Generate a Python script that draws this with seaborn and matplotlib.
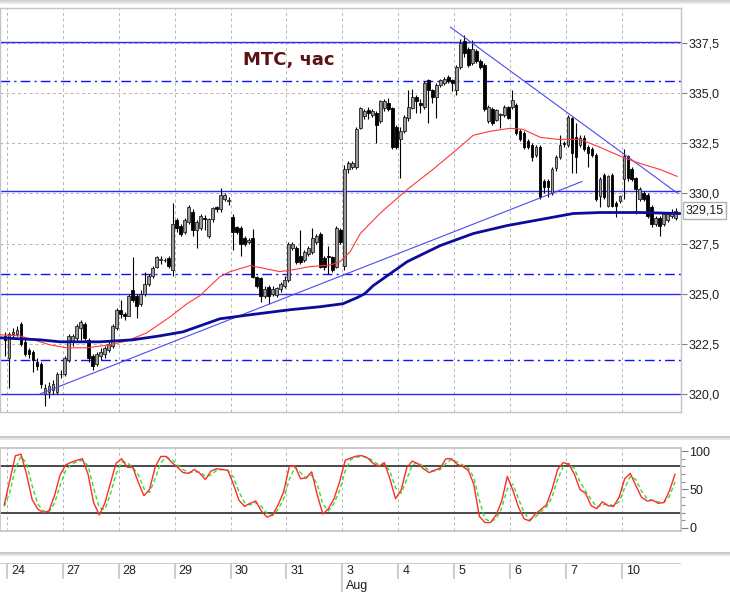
"""
MTS hourly chart: candles, two moving averages, trend lines, levels
and a stochastic oscillator panel with a day strip underneath.
"""

import numpy as np
import pandas as pd
import matplotlib
matplotlib.use("Agg")
import matplotlib.pyplot as plt
import seaborn as sns
from matplotlib.lines import Line2D
from matplotlib.ticker import FixedLocator, FuncFormatter, MultipleLocator

# --- Data ---
day_labels = ["24", "27", "28", "29", "30", "31", "3", "4", "5", "6", "7", "10"]
month_label = "Aug"
month_day = 6          # index of the day where August starts
bars_per_day = 14

# one bar from the previous day, then 14 hourly bars per day
opens = [322.9,
    321.8, 323.0, 323.0, 323.5, 322.6, 322.2, 322.1, 321.6, 321.5, 320.0, 320.1, 320.2, 320.1, 321.0,
    321.0, 321.7, 322.6, 322.8, 323.3, 323.5, 322.7, 321.9, 321.5, 321.9, 322.0, 322.2, 322.4, 323.3,
    324.2, 324.0, 323.9, 325.2, 324.9, 324.5, 325.0, 325.5, 325.9, 326.35, 326.7, 326.7, 326.8, 326.2,
    328.7, 328.4, 328.1, 328.6, 329.1, 328.2, 328.3, 328.8, 327.9, 328.75, 329.3, 329.2, 329.7, 329.6,
    328.85, 328.35, 328.3, 327.8, 327.6, 327.8, 325.85, 325.8, 324.9, 325.35, 325.0, 324.95, 325.25, 325.4,
    325.7, 327.3, 327.3, 326.9, 326.7, 327.0, 327.1, 327.6, 328.0, 326.8, 326.9, 326.85, 326.35, 328.2,
    326.4, 331.2, 331.3, 331.3, 333.25, 333.85, 334.15, 333.9, 334.0, 333.6, 334.25, 334.5, 334.25, 333.3,
    332.7, 333.1, 333.75, 334.25, 334.8, 334.5, 334.3, 335.65, 335.15, 334.8, 335.4, 335.5, 335.8, 335.65,
    335.15, 336.3, 337.6, 337.2, 336.5, 337.1, 336.6, 336.4, 333.6, 334.2, 333.65, 333.9, 333.9, 334.3,
    334.3, 334.4, 333.1, 333.0, 332.6, 332.4, 331.9, 332.3, 330.6, 330.6, 330.0, 331.25, 331.8, 332.5,
    332.4, 333.75, 332.8, 332.4, 332.75, 332.3, 332.2, 331.9, 329.85, 330.9, 329.35, 330.9, 329.5, 329.6,
    330.7, 331.85, 331.2, 330.75, 329.7, 330.0, 329.9, 329.3, 328.5, 328.8, 328.5, 328.7, 328.9, 328.8]
highs = [323.1,
    323.1, 323.3, 323.4, 323.6, 322.8, 322.3, 322.2, 321.8, 321.6, 320.5, 320.6, 320.7, 321.1, 321.2,
    321.9, 323.0, 323.0, 323.5, 323.7, 323.6, 322.8, 322.0, 322.1, 322.3, 322.4, 322.7, 323.5, 324.3,
    324.7, 324.1, 325.0, 326.85, 325.0, 325.2, 326.1, 326.0, 326.4, 326.9, 326.9, 326.8, 326.9, 329.5,
    328.8, 328.5, 328.8, 329.4, 329.2, 328.7, 329.0, 328.95, 328.8, 329.3, 329.35, 330.25, 330.0, 329.8,
    329.0, 328.4, 328.4, 327.9, 327.8, 328.25, 325.9, 325.85, 325.4, 325.45, 325.4, 325.35, 325.6, 325.9,
    327.6, 327.6, 327.4, 328.2, 327.2, 327.4, 328.3, 328.0, 328.1, 326.9, 327.4, 326.9, 328.4, 328.3,
    331.4, 331.6, 331.6, 333.3, 334.3, 334.2, 334.3, 334.2, 334.1, 334.65, 334.7, 334.75, 334.3, 333.4,
    333.3, 333.9, 335.15, 335.2, 334.9, 334.7, 335.6, 335.7, 335.2, 335.5, 335.7, 335.8, 335.9, 335.7,
    336.4, 337.7, 337.9, 337.3, 337.65, 337.2, 336.7, 336.5, 334.4, 334.3, 334.2, 334.0, 334.4, 334.35,
    335.15, 334.5, 333.2, 333.1, 332.7, 332.5, 332.4, 332.4, 330.7, 330.7, 331.3, 331.9, 332.9, 332.6,
    333.9, 333.8, 333.5, 332.9, 332.9, 332.4, 332.3, 332.0, 330.8, 331.0, 330.9, 331.0, 329.6, 329.9,
    332.2, 331.9, 331.3, 330.8, 330.3, 330.1, 330.0, 329.4, 328.9, 328.9, 329.1, 329.1, 329.2, 329.25]
lows = [321.9,
    320.3, 322.8, 322.9, 322.4, 321.9, 321.8, 321.1, 321.2, 320.3, 319.4, 319.8, 320.0, 320.0, 320.8,
    320.9, 321.6, 322.4, 322.6, 322.7, 322.6, 321.6, 321.2, 321.4, 321.7, 321.8, 322.1, 322.3, 323.2,
    323.8, 323.7, 323.9, 324.6, 323.8, 324.4, 324.9, 325.4, 325.8, 326.3, 326.5, 326.6, 326.3, 325.9,
    328.1, 327.9, 328.0, 328.5, 327.9, 327.3, 328.2, 328.2, 327.8, 328.6, 329.1, 329.1, 329.6, 329.4,
    327.2, 328.0, 326.9, 327.4, 327.5, 325.8, 325.3, 324.6, 324.8, 324.5, 324.9, 324.85, 325.1, 325.3,
    325.6, 327.2, 326.5, 326.5, 326.6, 326.9, 327.0, 327.5, 326.3, 326.2, 326.0, 326.1, 326.3, 327.5,
    326.2, 331.0, 331.2, 331.2, 333.2, 333.7, 333.7, 333.8, 332.5, 333.5, 334.1, 334.1, 332.2, 332.2,
    330.75, 333.0, 333.6, 334.2, 334.0, 334.0, 334.2, 333.5, 334.5, 333.75, 335.3, 335.4, 335.5, 335.1,
    334.9, 336.2, 336.8, 336.3, 336.4, 336.5, 336.2, 334.1, 333.5, 333.4, 333.6, 333.25, 333.8, 333.7,
    334.2, 332.9, 332.6, 332.2, 332.2, 331.6, 331.8, 329.7, 330.0, 329.8, 329.9, 331.1, 331.7, 332.3,
    332.3, 331.0, 331.0, 332.3, 332.1, 331.3, 331.8, 329.6, 329.3, 329.7, 329.3, 329.3, 328.85, 329.5,
    329.7, 330.6, 330.6, 329.0, 329.6, 329.6, 328.8, 328.35, 328.4, 327.9, 328.4, 328.6, 328.8, 328.7]
closes = [322.7,
    323.0, 323.1, 323.2, 322.5, 322.0, 322.0, 321.7, 321.4, 320.5, 320.3, 320.4, 320.5, 321.0, 321.0,
    321.8, 322.9, 322.9, 323.4, 323.6, 322.8, 321.8, 321.4, 322.0, 322.1, 322.3, 322.5, 323.4, 324.2,
    324.0, 323.9, 324.9, 324.7, 324.4, 325.0, 325.5, 325.9, 326.3, 326.85, 326.75, 326.7, 326.4, 328.5,
    328.3, 328.0, 328.7, 329.3, 328.2, 328.6, 328.9, 328.75, 328.75, 329.25, 329.2, 329.9, 329.9, 329.65,
    328.1, 328.1, 327.5, 327.5, 327.7, 325.85, 325.4, 324.9, 325.25, 324.9, 325.25, 325.3, 325.5, 325.7,
    327.5, 327.5, 326.6, 326.6, 327.1, 327.3, 327.8, 327.9, 326.35, 326.35, 326.85, 326.2, 328.3, 327.6,
    331.2, 331.5, 331.5, 333.2, 334.25, 334.1, 334.0, 334.1, 333.4, 334.6, 334.6, 334.2, 332.3, 332.3,
    333.1, 333.8, 334.3, 334.8, 334.6, 334.4, 335.5, 335.15, 334.8, 335.4, 335.65, 335.7, 335.6, 335.5,
    336.3, 337.5, 337.0, 336.4, 337.2, 336.6, 336.3, 334.2, 334.3, 333.5, 334.15, 333.95, 334.3, 333.75,
    334.65, 333.0, 332.7, 332.3, 332.3, 331.8, 332.3, 329.8, 330.3, 330.3, 331.2, 331.8, 332.4, 332.45,
    333.8, 332.0, 331.8, 332.75, 332.2, 332.0, 331.9, 329.7, 330.7, 329.8, 330.85, 329.35, 329.35, 329.85,
    331.85, 330.75, 330.7, 330.2, 330.2, 329.7, 328.9, 328.5, 328.8, 328.4, 329.0, 329.0, 329.1, 329.15]
last_price = 329.15

# moving averages, sampled along the line (x in trading days)
ma_fast_x = [-0.13, 0.23, 0.47, 0.77, 1.07, 1.43, 1.84, 2.15, 2.50, 2.92, 3.22, 3.45, 3.81,
             3.99, 4.35, 4.53, 4.88, 5.12, 5.42, 5.78, 5.96, 6.14, 6.32, 6.67, 7.16, 7.62,
             8.05, 8.34, 8.64, 9.00, 9.23, 9.54, 9.84, 10.25, 10.61, 11.02, 11.32, 11.68, 11.99]
ma_fast = [322.95, 322.9, 322.7, 322.45, 322.3, 322.3, 322.45, 322.65, 323.05, 323.85, 324.5,
           324.9, 325.85, 326.1, 326.4, 326.3, 326.1, 326.2, 326.35, 326.43, 326.6, 327.1, 328.0,
           329.0, 330.2, 331.2, 332.2, 332.9, 333.1, 333.25, 333.2, 332.8, 332.7, 332.7, 332.3,
           331.8, 331.5, 331.2, 330.85]
ma_slow_x = [-0.13, 0.59, 0.95, 1.66, 2.25, 2.74, 3.15, 3.81, 4.35, 5.06, 5.60, 6.01, 6.26,
             6.40, 6.55, 7.16, 7.75, 8.34, 8.95, 9.54, 10.13, 10.61, 11.32, 12.04]
ma_slow = [322.8, 322.7, 322.6, 322.6, 322.7, 322.9, 323.1, 323.75, 323.95, 324.2, 324.35,
           324.5, 324.8, 325.0, 325.4, 326.6, 327.4, 328.0, 328.4, 328.7, 329.0, 329.05,
           329.05, 329.0]

# trend lines (two end points each)
trend_up_x = [0.59, 10.29]
trend_up_y = [320.0, 330.6]
trend_down_x = [7.93, 12.0]
trend_down_y = [338.3, 330.0]

# horizontal levels
levels_solid = [337.55, 330.1, 325.0, 320.0]
levels_dashdot = [335.6, 326.0, 321.7]

# stochastic oscillator, ten readings per day
stoch_k = [30, 62, 94, 96, 70, 37, 24.5, 20, 22, 42,
           69, 82, 85.5, 88, 90, 70, 33, 17, 32, 58,
           84, 90, 79, 79, 59, 42, 50, 79, 93, 93,
           85, 79, 72, 71, 76, 71, 63, 74, 77, 76,
           75, 57, 36, 28, 32, 35, 22, 14, 17, 30,
           47, 80, 81, 64, 65, 73, 43, 18, 25, 38,
           60, 88, 91, 93.5, 94, 91, 84, 80, 85, 64,
           38, 49, 78, 87, 83.5, 77, 72, 75, 78, 90,
           90, 83, 80, 75, 57, 15, 7, 7, 17, 35,
           67, 49, 27, 12, 9, 18, 24, 30, 50, 76,
           85, 83, 70, 50, 45, 29, 25, 34, 29, 28,
           40, 64, 71, 55, 40, 35, 36, 32, 33, 48,
           70]
stoch_d = [28, 46, 78, 93, 84, 55, 31, 22, 21, 32,
           55, 75, 83, 86, 88, 81, 52, 26, 24, 44,
           70, 86, 85, 79, 69, 51, 46, 64, 85, 92,
           89, 82, 76, 72, 73, 73, 67, 69, 75, 76,
           75, 66, 47, 33, 30, 33, 28, 19, 16, 24,
           38, 63, 79, 72, 65, 69, 57, 31, 22, 32,
           49, 74, 89, 92, 93, 92, 87, 82, 83, 74,
           52, 45, 63, 82, 85, 80, 75, 74, 76, 84,
           89, 86, 82, 78, 66, 36, 12, 8, 12, 26,
           51, 57, 38, 20, 11, 14, 21, 27, 40, 63,
           80, 84, 77, 60, 48, 37, 27, 30, 31, 29,
           34, 52, 67, 63, 48, 38, 36, 34, 33, 41,
           60]
stoch_levels = [80, 20]

# --- Build tables ---
n_days = len(day_labels)
bar_day = np.concatenate([[-1], np.repeat(np.arange(n_days), bars_per_day)])
bar_slot = np.concatenate([[bars_per_day - 1], np.tile(np.arange(bars_per_day), n_days)])
candles = pd.DataFrame({
    "t": bar_day + (bar_slot + 0.5) / bars_per_day,
    "open": opens, "high": highs, "low": lows, "close": closes,
})
candles["up"] = candles["close"] >= candles["open"]
stoch = pd.DataFrame({"t": (np.arange(len(stoch_k)) + 0.5) / 10 - 0.1,
                      "k": stoch_k, "d": stoch_d})

# --- Style ---
sns.set_theme(style="white")
plt.rcParams["font.family"] = ["Liberation Sans", "DejaVu Sans"]
FRAME = "#c4c4c4"
GRID = "#b4b4b4"
LEVEL = "#2a2aff"

W, H = 730, 592
fig = plt.figure(figsize=(W / 100, H / 100), dpi=100)
right = 681 / W
ax = fig.add_axes([0, 1 - 412 / H, right, 404 / H])
ax_s = fig.add_axes([0, 1 - 531 / H, right, 83 / H])
ax_d = fig.add_axes([0, 1 - 579 / H, right, 16 / H])

x_lim = (-0.125, 12.057)
comma = FuncFormatter(lambda v, p: f"{v:.1f}".replace(".", ","))

# --- Price panel ---
ax.set_xlim(*x_lim)
ax.set_ylim(319.1, 339.25)
ax.set_xticks(np.arange(n_days))
ax.set_xticklabels([])
ax.yaxis.tick_right()
ax.yaxis.set_major_locator(FixedLocator(np.arange(320, 338, 2.5)))
ax.yaxis.set_major_formatter(comma)
ax.tick_params(axis="y", length=4, width=0.8, color="#808080", pad=1.5,
               labelsize=9, labelcolor="#202020")
ax.tick_params(axis="x", length=0)
ax.grid(True, color=GRID, linestyle=(0, (3, 3)), linewidth=0.7)
for sp in ax.spines.values():
    sp.set_color(FRAME)
    sp.set_linewidth(1)

for lv in levels_solid:
    ax.axhline(lv, color=LEVEL, linewidth=1.0, zorder=2)
for lv in levels_dashdot:
    ax.axhline(lv, color="#1010ff", linewidth=1.0, linestyle=(0, (7, 3, 1.5, 3)), zorder=2)

ax.vlines(candles["t"], candles["low"], candles["high"], color="black", linewidth=0.8, zorder=3)
for up, grp in candles.groupby("up"):
    ax.bar(grp["t"], grp["close"] - grp["open"], bottom=grp["open"], width=0.05,
           color="#9a9a9a" if up else "black", edgecolor="#202020" if up else "black",
           linewidth=0.6, zorder=4)

sns.lineplot(x=trend_up_x, y=trend_up_y, ax=ax, color="#4b4bf0", linewidth=0.8, zorder=5)
sns.lineplot(x=trend_down_x, y=trend_down_y, ax=ax, color="#4b4bf0", linewidth=0.8, zorder=5)
sns.lineplot(x=ma_fast_x, y=ma_fast, ax=ax, color="#ff3838", linewidth=0.8, sort=False, zorder=6)
sns.lineplot(x=ma_slow_x, y=ma_slow, ax=ax, color="#0c0c9c", linewidth=2.0, sort=False, zorder=6)
ax.set_xlim(*x_lim)

ax.annotate(f"{last_price:.2f}".replace(".", ","), xy=(1, last_price),
            xycoords=ax.get_yaxis_transform(), xytext=(3.5, 0), textcoords="offset points",
            va="center", ha="left", fontsize=9, color="#202020",
            bbox=dict(boxstyle="square,pad=0.2", fc="white", ec="#b0b0b0", lw=1),
            annotation_clip=False)

ax.text(0.424, 0.871, "МТС, час", transform=ax.transAxes, ha="center", va="center",
        fontsize=13, fontweight="bold", color="#5c1212", family=["DejaVu Sans"], zorder=7)

# --- Stochastic panel ---
ax_s.set_xlim(*x_lim)
ax_s.set_ylim(-4, 104)
ax_s.set_xticks(np.arange(n_days))
ax_s.set_xticklabels([])
ax_s.tick_params(axis="x", length=0)
ax_s.yaxis.tick_right()
ax_s.yaxis.set_major_locator(FixedLocator([0, 50, 100]))
ax_s.yaxis.set_minor_locator(MultipleLocator(10))
ax_s.tick_params(axis="y", which="major", length=5, width=0.8, color="#808080", pad=1,
                 labelsize=9, labelcolor="#202020")
ax_s.tick_params(axis="y", which="minor", length=3, width=0.8, color="#909090")
ax_s.xaxis.grid(True, color=GRID, linestyle=(0, (3, 3)), linewidth=0.7)
for sp in ax_s.spines.values():
    sp.set_color(FRAME)
for lv in stoch_levels:
    ax_s.axhline(lv, color="#3c3c3c", linewidth=1.3, zorder=2)
sns.lineplot(data=stoch, x="t", y="d", ax=ax_s, color="#33dd33", linewidth=1.0,
             linestyle=(0, (3, 2)), zorder=3)
sns.lineplot(data=stoch, x="t", y="k", ax=ax_s, color="#ff2a2a", linewidth=1.0, zorder=4)
ax_s.set_xlim(*x_lim)
for a in (ax, ax_s):
    a.set_xlabel("")
    a.set_ylabel("")

# --- Day strip ---
ax_d.set_xlim(*x_lim)
ax_d.set_ylim(0, 1)
ax_d.axis("off")
ax_d.axhline(1, color=FRAME, linewidth=1.2)
ax_d.vlines(np.arange(n_days), 0, 1, color=FRAME, linewidth=1.2)
ax_d.vlines([month_day], -0.8, 0, color=FRAME, linewidth=1.2, clip_on=False)
for i, lab in enumerate(day_labels):
    ax_d.text(i + 0.07, 0.5, lab, ha="left", va="center", fontsize=9, color="#202020")
ax_d.text(month_day + 0.07, -0.45, month_label, ha="left", va="center", fontsize=9,
          color="#202020", clip_on=False)

# panel separators
for y_px, col in [(1, "#c8c8c8"), (3, "#e4e4e4"), (437, "#c0c0c0"), (439, "#e2e2e2"),
                  (553, "#c0c0c0"), (555, "#e2e2e2")]:
    fig.add_artist(Line2D([0, 1], [1 - y_px / H] * 2, transform=fig.transFigure,
                          color=col, linewidth=1.2))

fig.savefig("out.png", dpi=100, facecolor="white")
